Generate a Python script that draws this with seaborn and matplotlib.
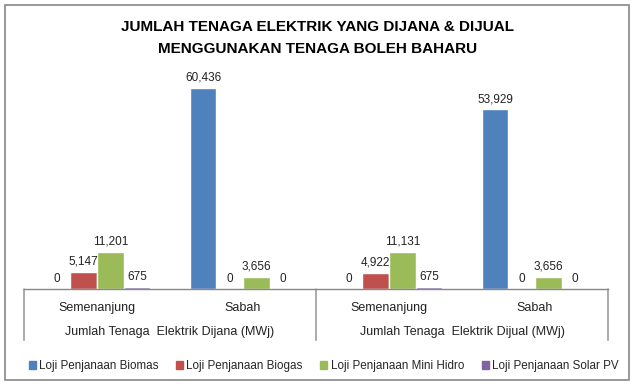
import matplotlib
matplotlib.use("Agg")
import matplotlib.pyplot as plt
import matplotlib.patches as mpatches
import matplotlib.transforms as mtransforms
import seaborn as sns
import pandas as pd

# ---- data ----
cat_keys = ["SemDijana", "SabDijana", "SemDijual", "SabDijual"]
cat_labels = ["Semenanjung", "Sabah", "Semenanjung", "Sabah"]
group_labels = ["Jumlah Tenaga  Elektrik Dijana (MWj)", "Jumlah Tenaga  Elektrik Dijual (MWj)"]
series = ["Loji Penjanaan Biomas", "Loji Penjanaan Biogas",
          "Loji Penjanaan Mini Hidro", "Loji Penjanaan Solar PV"]
biomas = [0, 60436, 0, 53929]
biogas = [5147, 0, 4922, 0]
mini_hidro = [11201, 3656, 11131, 3656]
solar_pv = [675, 0, 675, 0]
colors = ["#4F81BD", "#C0504D", "#9BBB59", "#8064A2"]
title = "JUMLAH TENAGA ELEKTRIK YANG DIJANA & DIJUAL\nMENGGUNAKAN TENAGA BOLEH BAHARU"

rows = []
for s, vals in zip(series, [biomas, biogas, mini_hidro, solar_pv]):
    for k, v in zip(cat_keys, vals):
        rows.append({"kategori": k, "siri": s, "nilai": v})
df = pd.DataFrame(rows)

sns.set_theme(style="white")
plt.rcParams["font.family"] = ["Liberation Sans Narrow", "Liberation Sans", "DejaVu Sans"]

W, H = 635, 384
fig = plt.figure(figsize=(W / 100, H / 100), dpi=100)
ax = fig.add_axes([24 / W, (H - 289) / H, (608 - 24) / W, (289 - 56) / H])

sns.barplot(data=df, x="kategori", y="nilai", hue="siri", order=cat_keys,
            hue_order=series, palette=colors, width=0.73, saturation=1,
            ax=ax, legend=False)

for cont in ax.containers:
    ax.bar_label(cont, labels=[f"{v:,.0f}" for v in cont.datavalues],
                 padding=3, fontsize=8.5, color="#222222")

ax.set_ylim(0, 70000)
ax.set_xlim(-0.5, 3.5)
ax.set_xlabel("")
ax.set_ylabel("")
ax.set_yticks([])
ax.set_xticks([])
for sp in ["left", "right", "top"]:
    ax.spines[sp].set_visible(False)
ax.spines["bottom"].set_color("#888888")
ax.spines["bottom"].set_linewidth(1)

trans = mtransforms.blended_transform_factory(ax.transData, ax.transAxes)
for xs in [-0.5, 1.5, 3.5]:
    ax.annotate("", xy=(xs, 0), xycoords=trans, xytext=(xs, -37),
                textcoords=("data", "offset points"),
                arrowprops=dict(arrowstyle="-", color="#888888", lw=1,
                                shrinkA=0, shrinkB=0), annotation_clip=False)
for i, lab in enumerate(cat_labels):
    ax.annotate(lab, xy=(i, 0), xycoords=trans, xytext=(0, -14),
                textcoords="offset points", ha="center", va="center",
                fontsize=9, color="#222222", annotation_clip=False)
for g, lab in enumerate(group_labels):
    ax.annotate(lab, xy=(g * 2 + 0.5, 0), xycoords=trans, xytext=(0, -31),
                textcoords="offset points", ha="center", va="center",
                fontsize=9, color="#222222", annotation_clip=False)

fig.text(0.5, 1 - 38 / H, title, ha="center", va="center", fontsize=11,
         fontweight="bold", color="black", linespacing=1.65)

handles = [mpatches.Patch(color=c, label=s) for c, s in zip(colors, series)]
fig.legend(handles=handles, loc="center left", bbox_to_anchor=(18 / W, 1 - 366 / H),
           ncol=4, frameon=False, fontsize=8.4, handlelength=0.6,
           handleheight=0.6, handletextpad=0.3, columnspacing=1.5)

fig.add_artist(mpatches.Rectangle((5 / W, 4 / H), 624 / W, 375 / H,
                                  transform=fig.transFigure, fill=False,
                                  edgecolor="#888888", lw=1.2))

fig.savefig("out.png", dpi=100)
